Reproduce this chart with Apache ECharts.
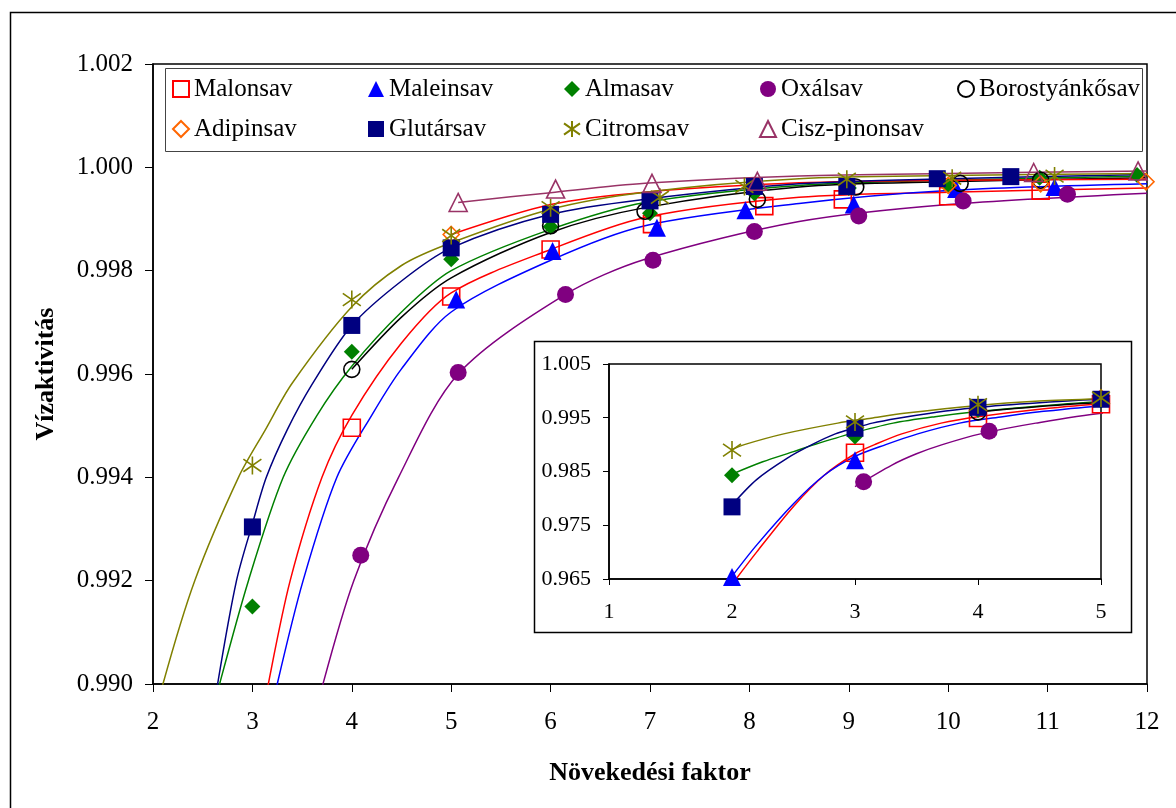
<!DOCTYPE html>
<html>
<head>
<meta charset="utf-8">
<script src="https://cdn.jsdelivr.net/npm/echarts@6/dist/echarts.min.js"></script>
<style>
  html, body { margin: 0; padding: 0; background: #fff; }
  #chart { width: 1176px; height: 808px; }
</style>
</head>
<body>
<div id="chart"></div>
<script>
// fitted curves, [növekedési faktor, vízaktivitás]
const malonsavLine = [[2.0, 0.9640], [2.2, 0.9700], [2.5, 0.9785], [2.75, 0.9843], [3.0, 0.9883], [3.16, 0.9900], [3.38, 0.9920], [3.7, 0.9940], [4.0, 0.9952], [4.5, 0.9966], [5.0, 0.99757], [6.0, 0.99841], [6.95, 0.99903], [8.5, 0.99942], [10, 0.99952], [12, 0.9996]]
const maleinsavLine = [[2.0, 0.9655], [2.2, 0.9713], [2.5, 0.9790], [2.75, 0.9843], [3.0, 0.9878], [3.25, 0.9900], [3.51, 0.9920], [3.85, 0.9940], [4.2, 0.9952], [4.5, 0.9961], [5.0, 0.9972], [6.0, 0.9982], [6.95, 0.99887], [8.5, 0.9993], [10, 0.99955], [12, 0.99968]]
const almasavLine = [[2.0, 0.9845], [2.25, 0.9868], [2.5, 0.9887], [2.67, 0.9900], [2.96, 0.9920], [3.31, 0.9940], [3.65, 0.9952], [4.0, 0.99615], [4.5, 0.9972], [5.0, 0.9980], [6.0, 0.9988], [6.95, 0.99932], [8.5, 0.99965], [10, 0.99975], [12, 0.99983]]
const oxalsavLine = [[3.0, 0.9822], [3.3, 0.9862], [3.5, 0.9883], [3.71, 0.9900], [4.02, 0.9920], [4.47, 0.9940], [5.07, 0.9960], [6.15, 0.99754], [6.95, 0.99822], [8.5, 0.99895], [10, 0.99928], [12, 0.9995]]
const borostyanLine = [[4.0, 0.99609], [4.5, 0.9971], [5.0, 0.99786], [6.0, 0.99874], [6.95, 0.99922], [8.5, 0.99962], [10, 0.99972], [12, 0.9998]]
const adipinsavLine = [[5.0, 0.9987], [6.0, 0.99928], [6.95, 0.99952], [8.5, 0.9997], [10, 0.99975], [12, 0.99977]]
const glutarsavLine = [[2.0, 0.9788], [2.2, 0.9835], [2.45, 0.9875], [2.65, 0.9900], [2.84, 0.9920], [3.0, 0.9931], [3.14, 0.9940], [3.35, 0.99492], [3.6, 0.9958], [4.0, 0.99694], [4.5, 0.9978], [5.0, 0.99844], [6.0, 0.99909], [6.95, 0.99938], [8.5, 0.99968], [10, 0.99978], [12, 0.99986]]
const citromsavLine = [[2.0, 0.9891], [2.1, 0.9900], [2.42, 0.9920], [2.86, 0.9940], [3.13, 0.99492], [3.4, 0.99582], [4.0, 0.9973], [4.5, 0.9981], [5.0, 0.99854], [6.0, 0.99919], [6.95, 0.99952], [8.5, 0.99978], [10, 0.99984], [12, 0.99988]]
const ciszLine = [[5.07, 0.99932], [6.0, 0.99951], [6.95, 0.99969], [8.5, 0.99983], [10, 0.99988], [12, 0.99993]]

// measured points
const malonsavPts = [[3, 0.98848], [4, 0.99496], [5, 0.9975], [6, 0.99841], [7.02, 0.9989], [8.15, 0.99925], [8.94, 0.99938], [10.0, 0.99944], [10.93, 0.99955]]
const maleinsavPts = [[2, 0.96537], [3, 0.98711], [5.05, 0.99744], [6.02, 0.99838], [7.07, 0.99883], [7.96, 0.99917], [9.05, 0.99928], [10.08, 0.99958], [11.07, 0.99962]]
const almasavPts = [[2, 0.98432], [3, 0.9915], [4, 0.99643], [5, 0.99822], [6, 0.99885], [7, 0.99911], [8.05, 0.9995], [9.0, 0.9996], [10.0, 0.99965], [10.92, 0.9998], [11.9, 0.99985]]
const oxalsavPts = [[3.07, 0.9831], [4.09, 0.99249], [5.07, 0.99603], [6.15, 0.99754], [7.03, 0.9982], [8.05, 0.99876], [9.1, 0.99906], [10.15, 0.99935], [11.2, 0.99948]]
const borostyanPts = [[4, 0.99609], [6, 0.99887], [6.95, 0.99915], [8.08, 0.99938], [9.07, 0.99962], [10.12, 0.99969], [10.93, 0.99975]]
const adipinsavPts = [[5, 0.9987], [10.0, 0.99965], [10.93, 0.99968], [11.99, 0.99972]]
const glutarsavPts = [[2, 0.97842], [3, 0.99304], [4, 0.99694], [5, 0.99844], [6, 0.99909], [7, 0.99935], [8.05, 0.99963], [8.98, 0.99963], [9.89, 0.99978], [10.63, 0.99982]]
const citromsavPts = [[2, 0.98898], [3, 0.99423], [4, 0.99744], [5, 0.99868], [6, 0.99922], [7.1, 0.99942], [7.95, 0.99963], [8.98, 0.99977], [10.04, 0.99979], [11.07, 0.99983]]
const ciszPts = [[5.07, 0.99932], [6.05, 0.99958], [7.02, 0.99969], [8.08, 0.99973], [10.86, 0.9999], [11.91, 0.99993]]

const FONT = '"Liberation Serif", "Times New Roman", serif'
const HOLLOW = 'rgba(255,255,255,0)'
const STAR = 'path://M5,0L5,10M0,1.5L10,8.5M10,1.5L0,8.5'

const acids = [
  { name: 'Malonsav', line: malonsavLine, pts: malonsavPts, lineColor: '#FF0000', symbol: 'rect', size: 17, fill: HOLLOW, border: '#FF0000' },
  { name: 'Maleinsav', line: maleinsavLine, pts: maleinsavPts, lineColor: '#0000FF', symbol: 'triangle', size: 18, fill: '#0000FF', border: '#0000FF' },
  { name: 'Almasav', line: almasavLine, pts: almasavPts, lineColor: '#008000', symbol: 'diamond', size: 16, fill: '#008000', border: '#008000' },
  { name: 'Oxálsav', line: oxalsavLine, pts: oxalsavPts, lineColor: '#800080', symbol: 'circle', size: 17, fill: '#800080', border: '#800080' },
  { name: 'Borostyánkősav', line: borostyanLine, pts: borostyanPts, lineColor: '#000000', symbol: 'circle', size: 16, fill: HOLLOW, border: '#000000' },
  { name: 'Adipinsav', line: adipinsavLine, pts: adipinsavPts, lineColor: '#FF0000', symbol: 'diamond', size: 16, fill: HOLLOW, border: '#FF6600' },
  { name: 'Glutársav', line: glutarsavLine, pts: glutarsavPts, lineColor: '#000080', symbol: 'rect', size: 17, fill: '#000080', border: '#000080' },
  { name: 'Citromsav', line: citromsavLine, pts: citromsavPts, lineColor: '#808000', symbol: STAR, size: 18, fill: HOLLOW, border: '#808000' },
  { name: 'Cisz-pinonsav', line: ciszLine, pts: ciszPts, lineColor: '#993366', symbol: 'triangle', size: 18, fill: HOLLOW, border: '#993366' }
]

const series = []
;[0, 1].forEach(g => {
  acids.forEach(a => {
    series.push({
      name: a.name + ' görbe',
      type: 'line',
      xAxisIndex: g,
      yAxisIndex: g,
      data: a.line,
      smooth: 0.3,
      showSymbol: false,
      clip: true,
      silent: true,
      lineStyle: { color: a.lineColor, width: 1.5 },
      z: 2 + g * 4
    })
  })
  acids.forEach(a => {
    series.push({
      name: a.name,
      type: 'scatter',
      xAxisIndex: g,
      yAxisIndex: g,
      data: a.pts,
      symbol: a.symbol,
      symbolSize: a.size,
      clip: true,
      silent: true,
      itemStyle: { color: a.fill, borderColor: a.border, borderWidth: a.fill === HOLLOW ? 1.6 : 0, opacity: 1 },
      z: 3 + g * 4
    })
  })
})

const legendBase = {
  orient: 'vertical',
  padding: 0,
  itemGap: 10,
  itemWidth: 16,
  itemHeight: 16,
  selectedMode: false,
  textStyle: { fontFamily: FONT, fontSize: 25, lineHeight: 30, color: '#000' },
  top: 74
}
const legendCols = [
  { left: 172, data: ['Malonsav', 'Adipinsav'] },
  { left: 368, data: ['Maleinsav', 'Glutársav'] },
  { left: 563, data: ['Almasav', 'Citromsav'] },
  { left: 759, data: ['Oxálsav', 'Cisz-pinonsav'] },
  { left: 957, data: ['Borostyánkősav'] }
]

const fmt3 = v => v.toFixed(3)

const chart = echarts.init(document.getElementById('chart'))
chart.setOption({
  animation: false,
  backgroundColor: '#fff',
  graphic: [
    { type: 'rect', z: -1, shape: { x: 10.5, y: 12.5, width: 1300, height: 900 }, style: { fill: 'none', stroke: '#000', lineWidth: 1.5 } },
    { type: 'rect', z: -1, shape: { x: 165.5, y: 68.5, width: 977, height: 83 }, style: { fill: '#fff', stroke: '#444', lineWidth: 1 } },
    { type: 'rect', z: -1, shape: { x: 534.5, y: 341.5, width: 597, height: 291 }, style: { fill: '#fff', stroke: '#000', lineWidth: 1.5 } }
  ],
  legend: legendCols.map(c => Object.assign({}, legendBase, c)),
  grid: [
    { left: 153, top: 64, width: 994, height: 620, show: true, borderColor: '#000', borderWidth: 1.5 },
    { left: 609, top: 364, width: 492, height: 215, show: true, borderColor: '#000', borderWidth: 1.5 }
  ],
  xAxis: [
    {
      type: 'value', gridIndex: 0, min: 2, max: 12, interval: 1,
      name: 'Növekedési faktor', nameLocation: 'middle', nameGap: 76,
      nameTextStyle: { fontFamily: FONT, fontSize: 26, fontWeight: 'bold', color: '#000' },
      axisLine: { lineStyle: { color: '#000', width: 1.5 } },
      axisTick: { length: 8, lineStyle: { color: '#000' } },
      axisLabel: { fontFamily: FONT, fontSize: 25, color: '#000', margin: 26 },
      splitLine: { show: false }
    },
    {
      type: 'value', gridIndex: 1, min: 1, max: 5, interval: 1,
      axisLine: { lineStyle: { color: '#000', width: 1.5 } },
      axisTick: { length: 6, lineStyle: { color: '#000' } },
      axisLabel: { fontFamily: FONT, fontSize: 22, color: '#000', margin: 22 },
      splitLine: { show: false }
    }
  ],
  yAxis: [
    {
      type: 'value', gridIndex: 0, min: 0.990, max: 1.002, interval: 0.002,
      name: 'Vízaktivitás', nameLocation: 'middle', nameGap: 94,
      nameTextStyle: { fontFamily: FONT, fontSize: 26, fontWeight: 'bold', color: '#000' },
      axisLine: { show: true, lineStyle: { color: '#000', width: 1.5 } },
      axisTick: { show: true, length: 8, lineStyle: { color: '#000' } },
      axisLabel: { fontFamily: FONT, fontSize: 25, color: '#000', margin: 20, formatter: fmt3 },
      splitLine: { show: false }
    },
    {
      type: 'value', gridIndex: 1, min: 0.965, max: 1.005, interval: 0.01,
      axisLine: { show: true, lineStyle: { color: '#000', width: 1.5 } },
      axisTick: { show: true, length: 6, lineStyle: { color: '#000' } },
      axisLabel: { fontFamily: FONT, fontSize: 22, color: '#000', margin: 18, formatter: fmt3 },
      splitLine: { show: false }
    }
  ],
  series: series
})
</script>
</body>
</html>
